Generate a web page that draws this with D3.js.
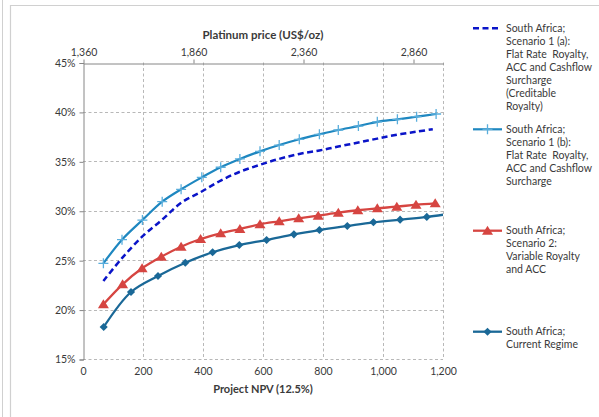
<!DOCTYPE html>
<html><head><meta charset="utf-8">
<script src="https://cdn.jsdelivr.net/npm/d3@7"></script>
<style>
body{margin:0;background:#fff;}
svg text{font-family:Lato,"Open Sans",sans-serif;fill:#3a3a3a;white-space:pre;}
</style></head>
<body><svg id="c" width="599" height="417"></svg>
<script>
// ---- data ----
const npvTicks = [0,200,400,600,800,1000,1200];
const pctTicks = [15,20,25,30,35,40,45];
const priceTicks = [1360,1860,2360,2860];

const s1aNpv = [68,130,198,264,327,396,459,523,590,654,721,788,851,918,981,1048,1112,1166];
const s1aVal = [22.9,25.2,27.4,29.1,30.8,31.95,33.05,33.95,34.65,35.25,35.75,36.1,36.5,36.9,37.3,37.7,38.0,38.25];

const s1bNpv = [68,130,198,264,327,396,459,523,590,654,721,788,851,918,981,1048,1112,1177];
const s1bVal = [24.68,27.07,29.06,30.92,32.17,33.38,34.4,35.24,36.01,36.65,37.23,37.73,38.17,38.57,39.0,39.25,39.52,39.79];

const s2Npv = [68,132,197,261,327,392,459,523,590,654,719,784,851,916,981,1046,1110,1174];
const s2Val = [20.53,22.56,24.18,25.35,26.36,27.14,27.72,28.15,28.63,28.93,29.23,29.5,29.8,30.05,30.25,30.41,30.61,30.75];

const curNpv = [69,160,250,341,432,521,612,703,788,881,968,1057,1146,1235];
const curVal = [18.24,21.78,23.4,24.74,25.8,26.53,27.04,27.61,28.05,28.46,28.83,29.1,29.38,29.75];

const legendLabels = [
  ["South Africa;","Scenario 1 (a):","Flat Rate  Royalty,","ACC and Cashflow","Surcharge","(Creditable","Royalty)"],
  ["South Africa;","Scenario 1 (b):","Flat Rate  Royalty,","ACC and Cashflow","Surcharge"],
  ["South Africa;","Scenario 2:","Variable Royalty","and ACC"],
  ["South Africa;","Current Regime"]
];
const xTitle = "Project NPV (12.5%)";
const topTitle = "Platinum price (US$/oz)";

// ---- layout ----
const svg = d3.select("#c");
const L = 83, T = 62.5, W = 360, H = 296.5;
const x = d3.scaleLinear().domain([0,1200]).range([L, L+W]);
const y = d3.scaleLinear().domain([15,45]).range([T+H, T]);
const xp = d3.scaleLinear().domain([1360, 1360 + 1200*500/366.67]).range([L, L+W]);
const FS = "10.5px";

// frame
svg.append("line").attr("x1",2.5).attr("x2",2.5).attr("y1",0).attr("y2",417).attr("stroke","#d0d0d0").attr("stroke-width",1);
svg.append("path").attr("d","M10.5,417V5.5H599").attr("fill","none").attr("stroke","#d0d0d0").attr("stroke-width",1.2);

// grid
const grid = svg.append("g").attr("stroke","#b8b8b8").attr("stroke-width",1).attr("stroke-dasharray","3,2.5");
pctTicks.filter(d=>d<45).forEach(d=>{
  grid.append("line").attr("x1",L).attr("x2",L+W).attr("y1",Math.round(y(d))+0.5).attr("y2",Math.round(y(d))+0.5);
});
npvTicks.filter(d=>d>0).forEach(d=>{
  grid.append("line").attr("x1",Math.round(x(d))+0.5).attr("x2",Math.round(x(d))+0.5).attr("y1",T).attr("y2",T+H);
});

// left axis
const yAx = svg.append("g").attr("transform",`translate(${L+0.5},0.5)`)
  .call(d3.axisLeft(y).tickValues(pctTicks).tickFormat(d=>d+"%").tickSize(4).tickPadding(4));
yAx.select(".domain").attr("stroke","#868686");
yAx.selectAll(".tick line").attr("stroke","#868686");
yAx.selectAll("text").style("font-size",FS).attr("fill","#3a3a3a");

// bottom labels (no axis line)
const xAx = svg.append("g").attr("transform",`translate(0,${T+H})`)
  .call(d3.axisBottom(x).tickValues(npvTicks).tickFormat(d3.format(",")).tickSize(0).tickPadding(9));
xAx.select(".domain").remove();
xAx.selectAll("text").style("font-size",FS).attr("fill","#3a3a3a");

// top axis
const tAx = svg.append("g").attr("transform",`translate(0.5,${Math.round(T)+0.5})`)
  .call(d3.axisTop(xp).tickValues(priceTicks).tickFormat(d3.format(",")).tickSizeInner(4).tickSizeOuter(0).tickPadding(4));
tAx.select(".domain").attr("stroke","#868686");
tAx.selectAll(".tick line").attr("stroke","#868686");
tAx.selectAll("text").style("font-size",FS).attr("fill","#3a3a3a");

// titles
svg.append("text").attr("x",L+W/2).attr("y",38.5).attr("text-anchor","middle")
  .style("font-size","11.5px").style("font-weight","bold").text(topTitle);
svg.append("text").attr("x",L+W/2).attr("y",392.5).attr("text-anchor","middle")
  .style("font-size","11px").style("font-weight","bold").text(xTitle);

// clip
svg.append("clipPath").attr("id","clip").append("rect").attr("x",L).attr("y",T-10).attr("width",W).attr("height",H+20);
const plot = svg.append("g").attr("clip-path","url(#clip)");

const line = d3.line().x(d=>x(d[0])).y(d=>y(d[1])).curve(d3.curveCatmullRom.alpha(0.5));
const zip = (a,b)=>a.map((v,i)=>[v,b[i]]);

const C1a = "#0A14C8", C1b = "#1E87C0", C2 = "#D64541", CC = "#1A6897", C1bm = "#5AAEDC";

// current regime
const curD = zip(curNpv,curVal);
plot.append("path").attr("d",line(curD)).attr("fill","none").attr("stroke",CC).attr("stroke-width",2.3);
plot.selectAll(".dm").data(curD).join("path").attr("transform",d=>`translate(${x(d[0])},${y(d[1])})`)
  .attr("d",d3.symbol(d3.symbolDiamond2,42)).attr("fill",CC);

// scenario 2
const s2D = zip(s2Npv,s2Val);
plot.append("path").attr("d",line(s2D)).attr("fill","none").attr("stroke",C2).attr("stroke-width",2.3);
plot.selectAll(".tr").data(s2D).join("path").attr("transform",d=>`translate(${x(d[0])},${y(d[1])})`)
  .attr("d","M0,-5L5.5,4L-5.5,4Z").attr("fill",C2);

// scenario 1b
const s1bD = zip(s1bNpv,s1bVal);
plot.append("path").attr("d",line(s1bD)).attr("fill","none").attr("stroke",C1b).attr("stroke-width",2.2);
plot.selectAll(".pl").data(s1bD).join("path").attr("transform",d=>`translate(${x(d[0])},${y(d[1])})`)
  .attr("d","M-5,0H5M0,-5V5").attr("stroke",C1bm).attr("stroke-width",1.3).attr("fill","none");

// scenario 1a
const s1aD = zip(s1aNpv,s1aVal);
plot.append("path").attr("d",line(s1aD)).attr("fill","none").attr("stroke",C1a).attr("stroke-width",2.5).attr("stroke-dasharray","6,3.5");

// legend
const legY = [28.3,129.3,230.7,331.7];
const lg = svg.append("g");
legendLabels.forEach((lines,i)=>{
  const yy = legY[i];
  const g = lg.append("g");
  if(i===0){
    g.append("line").attr("x1",473).attr("x2",501).attr("y1",yy).attr("y2",yy).attr("stroke",C1a).attr("stroke-width",2.5).attr("stroke-dasharray","6,3.5");
  } else if(i===1){
    g.append("line").attr("x1",473).attr("x2",502).attr("y1",yy).attr("y2",yy).attr("stroke",C1b).attr("stroke-width",2.2);
    g.append("path").attr("transform",`translate(487.5,${yy})`).attr("d","M-5,0H5M0,-5V5").attr("stroke",C1bm).attr("stroke-width",1.3);
  } else if(i===2){
    g.append("line").attr("x1",473).attr("x2",502).attr("y1",yy).attr("y2",yy).attr("stroke",C2).attr("stroke-width",2.3);
    g.append("path").attr("transform",`translate(487.5,${yy})`).attr("d","M0,-5L5.5,4L-5.5,4Z").attr("fill",C2);
  } else {
    g.append("line").attr("x1",473).attr("x2",502).attr("y1",yy).attr("y2",yy).attr("stroke",CC).attr("stroke-width",2.3);
    g.append("path").attr("transform",`translate(487.5,${yy})`).attr("d",d3.symbol(d3.symbolDiamond2,42)).attr("fill",CC);
  }
  const t = g.append("text").attr("x",506).attr("y",yy).style("font-size","10.5px");
  lines.forEach((s,j)=>{
    t.append("tspan").attr("x",506).attr("y",yy + j*13).attr("dy","0.35em").text(s);
  });
});
</script></body></html>
